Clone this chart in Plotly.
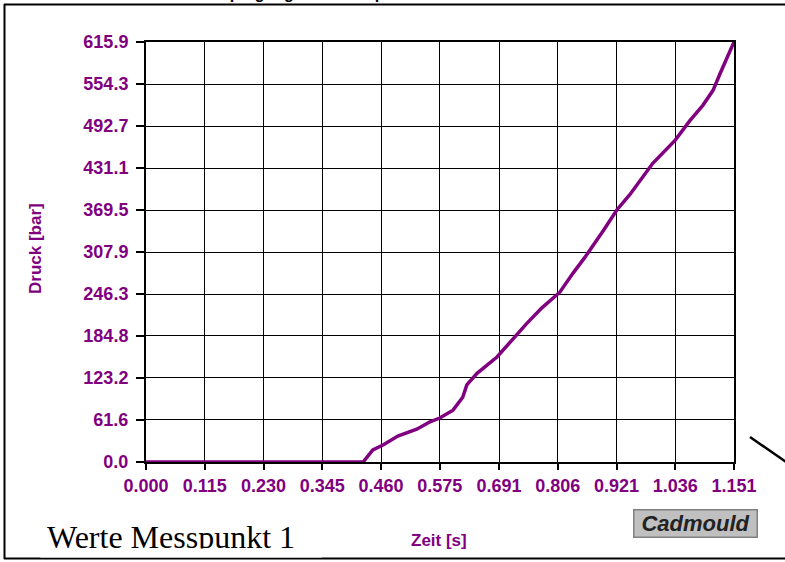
import plotly.graph_objects as go

# Data
zeit = [0.0, 0.1, 0.2, 0.3, 0.4, 0.425, 0.444, 0.464, 0.493, 0.530, 0.556, 0.575, 0.601,
        0.620, 0.628, 0.648, 0.687, 0.716, 0.745, 0.775, 0.810, 0.836, 0.859, 0.895,
        0.922, 0.947, 0.967, 0.992, 1.036, 1.065, 1.090, 1.110, 1.124, 1.139, 1.151]
druck = [0, 0, 0, 0, 0, 0, 17.6, 25, 38, 48, 59, 64.5, 76,
         95, 113, 130, 154, 179, 203, 226, 249, 277, 300, 339,
         370, 392, 413, 438, 472, 501, 523, 545, 570, 597, 615.9]

x_ticks = [0.000, 0.115, 0.230, 0.345, 0.460, 0.575, 0.691, 0.806, 0.921, 1.036, 1.151]
x_labels = ["0.000", "0.115", "0.230", "0.345", "0.460", "0.575", "0.691", "0.806", "0.921", "1.036", "1.151"]
y_ticks = [0.0, 61.6, 123.2, 184.8, 246.3, 307.9, 369.5, 431.1, 492.7, 554.3, 615.9]
y_labels = ["0.0", "61.6", "123.2", "184.8", "246.3", "307.9", "369.5", "431.1", "492.7", "554.3", "615.9"]

PURPLE = "#800080"
W, H = 785, 562
L, R, T, B = 146, 51, 42, 100
pw, ph = W - L - R, H - T - B


def px(x):
    return (x - L) / pw


def py(y):
    return (H - B - y) / ph


fig = go.Figure()
fig.add_trace(go.Scatter(x=zeit, y=druck, mode="lines",
                         line=dict(color=PURPLE, width=3.5),
                         cliponaxis=False, showlegend=False, hoverinfo="skip"))

tickfont = dict(family="Liberation Sans, Arial", size=18, color=PURPLE, weight="bold")

fig.update_layout(
    width=W, height=H,
    margin=dict(l=L, r=R, t=T, b=B),
    paper_bgcolor="white", plot_bgcolor="white",
    xaxis=dict(range=[0, 1.151], tickvals=x_ticks, ticktext=x_labels,
               showgrid=True, gridcolor="black", gridwidth=1,
               showline=True, linecolor="black", linewidth=2, mirror=True,
               ticks="outside", ticklen=6, tickcolor="black", tickwidth=1.5,
               tickfont=tickfont, zeroline=False),
    yaxis=dict(range=[0, 615.9], tickvals=y_ticks, ticktext=y_labels,
               showgrid=True, gridcolor="black", gridwidth=1,
               showline=True, linecolor="black", linewidth=2, mirror=True,
               ticks="outside", ticklen=8, tickcolor="black", tickwidth=1.5,
               ticklabelstandoff=4,
               tickfont=tickfont, zeroline=False),
)

annotations = [
    dict(text="Druck – Ausprägung im – Messpunkt", x=px(278), y=py(3), xref="paper", yref="paper",
         showarrow=False, xanchor="center", yanchor="bottom", borderpad=0,
         font=dict(family="Liberation Sans, Arial", size=16, color="black", weight="bold")),
    dict(text="Druck [bar]", textangle=-90, x=px(35), y=py(249), xref="paper", yref="paper",
         showarrow=False, xanchor="center", yanchor="middle",
         font=dict(family="Liberation Sans, Arial", size=17, color=PURPLE, weight="bold")),
    dict(text="Zeit [s]", x=px(439), y=py(540), xref="paper", yref="paper",
         showarrow=False, xanchor="center", yanchor="middle",
         font=dict(family="Liberation Sans, Arial", size=17, color=PURPLE, weight="bold")),
    dict(text="Werte Messpunkt 1", x=px(45), y=py(537), xref="paper", yref="paper",
         showarrow=False, xanchor="left", yanchor="middle",
         font=dict(family="Liberation Serif, Times New Roman", size=32, color="black")),
    # white band clipping the bottom of the caption, as in the reference
    dict(text=" ", x=px(40), y=py(553), xref="paper", yref="paper",
         showarrow=False, xanchor="left", yanchor="middle",
         width=280, height=8, bgcolor="white", borderpad=0,
         font=dict(size=6, color="white")),
    dict(text="<b><i>Cadmould</i></b>", x=px(695), y=py(523), xref="paper", yref="paper",
         showarrow=False, xanchor="center", yanchor="middle",
         bgcolor="#c0c0c0", bordercolor="#808080", borderwidth=1.5, borderpad=1,
         width=120, height=24,
         font=dict(family="Liberation Sans, Arial", size=22, color="#222222")),
]
fig.update_layout(annotations=annotations)

shapes = [
    # outer frame
    dict(type="line", xref="paper", yref="paper", x0=px(4.5), x1=px(4.5), y0=py(4), y1=py(559),
         line=dict(color="black", width=2)),
    dict(type="line", xref="paper", yref="paper", x0=px(4), x1=px(790), y0=py(4.5), y1=py(4.5),
         line=dict(color="black", width=2)),
    dict(type="line", xref="paper", yref="paper", x0=px(4), x1=px(790), y0=py(558.5), y1=py(558.5),
         line=dict(color="black", width=2)),
    # diagonal connector at the right
    dict(type="line", xref="paper", yref="paper", x0=px(750), x1=px(786), y0=py(437), y1=py(462),
         line=dict(color="black", width=2.5)),
]
fig.update_layout(shapes=shapes)

fig.write_html("out.html", config={"displayModeBar": False},
               post_script="document.body.style.margin='0';document.body.style.overflow='hidden';")
